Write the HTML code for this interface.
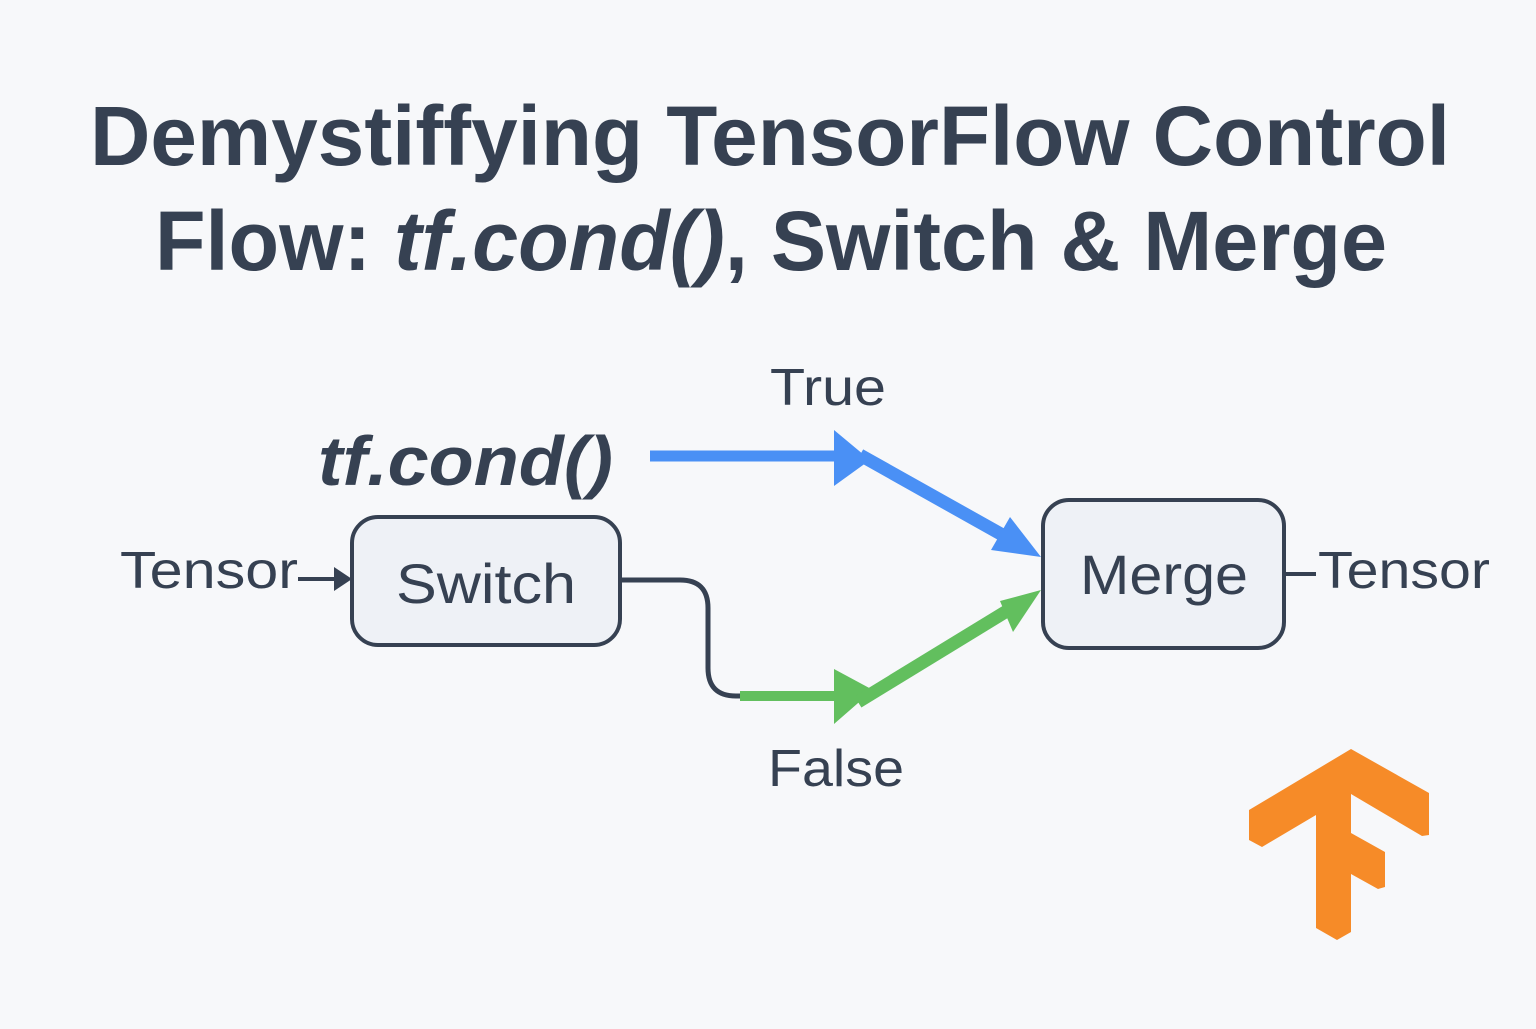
<!DOCTYPE html>
<html><head><meta charset="utf-8"><style>body{margin:0;background:#f7f8fa}</style></head><body>
<svg width="1536" height="1024" viewBox="0 0 1536 1024" xmlns="http://www.w3.org/2000/svg" font-family="Liberation Sans, sans-serif" fill="#364152">
<rect width="1536" height="1024" fill="#f7f8fa"/>
<text x="90" y="165" font-size="84" font-weight="bold" textLength="1360" lengthAdjust="spacingAndGlyphs">Demystiffying TensorFlow Control</text>
<text x="155" y="270" font-size="84" font-weight="bold" textLength="1232" lengthAdjust="spacingAndGlyphs">Flow: <tspan font-style="italic">tf.cond()</tspan>, Switch &amp; Merge</text>
<text x="318" y="485" font-size="70" font-weight="bold" font-style="italic" textLength="295" lengthAdjust="spacingAndGlyphs">tf.cond()</text>
<text x="770" y="405" font-size="52" textLength="116" lengthAdjust="spacingAndGlyphs">True</text>
<text x="768" y="786" font-size="52" textLength="136" lengthAdjust="spacingAndGlyphs">False</text>
<text x="120" y="588" font-size="52" textLength="178" lengthAdjust="spacingAndGlyphs">Tensor</text>
<text x="1318" y="588" font-size="52" textLength="172" lengthAdjust="spacingAndGlyphs">Tensor</text>
<line x1="298" y1="579" x2="340" y2="579" stroke="#364152" stroke-width="4"/>
<polygon points="352,579 334,567 334,591" fill="#364152"/>
<rect x="352" y="517" width="268" height="128" rx="26" fill="#eef1f6" stroke="#364152" stroke-width="4"/>
<text x="486" y="603" font-size="56" text-anchor="middle" textLength="180" lengthAdjust="spacingAndGlyphs">Switch</text>
<rect x="1043" y="500" width="241" height="148" rx="26" fill="#eef1f6" stroke="#364152" stroke-width="4"/>
<text x="1164" y="594" font-size="56" text-anchor="middle" textLength="168" lengthAdjust="spacingAndGlyphs">Merge</text>
<line x1="1284" y1="574" x2="1316" y2="574" stroke="#364152" stroke-width="4"/>
<line x1="650" y1="456" x2="840" y2="456" stroke="#4a90f5" stroke-width="11"/>
<polygon points="834,430 834,486 870,460" fill="#4a90f5"/>
<line x1="860" y1="455" x2="1015" y2="542" stroke="#4a90f5" stroke-width="13"/>
<polygon points="1041,557 1010,517 991,550" fill="#4a90f5"/>
<path d="M620,580 H680 Q708,580 708,608 V668 Q708,696 736,696 H760" fill="none" stroke="#364152" stroke-width="5"/>
<line x1="740" y1="696" x2="840" y2="696" stroke="#62bf5e" stroke-width="10"/>
<polygon points="834,669 834,724 873,690" fill="#62bf5e"/>
<line x1="858" y1="702" x2="1015" y2="606" stroke="#62bf5e" stroke-width="13"/>
<polygon points="1041,590 1000,601 1013,632" fill="#62bf5e"/>
<polygon fill="#f68b28" points="1351,749 1429,793 1429,835 1422,836 1351,794 1351,833 1385,852 1385,887 1378,889 1351,874 1351,932 1337,940 1316,928 1316,815 1262,847 1249,840 1249,810"/>
</svg>
</body></html>
